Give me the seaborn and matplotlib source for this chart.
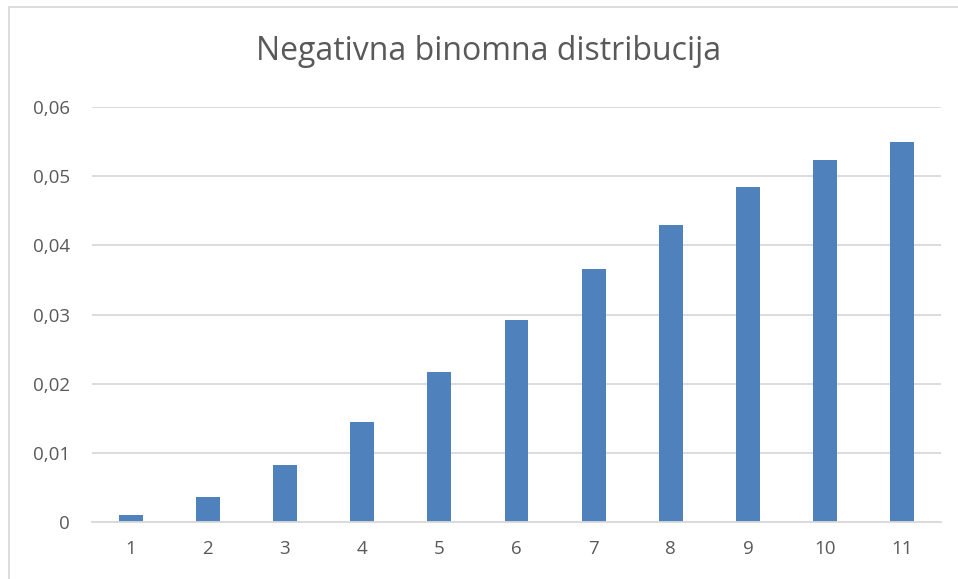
import matplotlib
matplotlib.use("Agg")
import matplotlib.pyplot as plt
import matplotlib.ticker as mticker
import seaborn as sns
import pandas as pd
from matplotlib.patches import Rectangle

categories = ["1", "2", "3", "4", "5", "6", "7", "8", "9", "10", "11"]
values = [0.00097, 0.0036, 0.0082, 0.0144, 0.0217, 0.0292, 0.0366, 0.0430, 0.0484, 0.0524, 0.0550]
yticks = [0, 0.01, 0.02, 0.03, 0.04, 0.05, 0.06]
title = "Negativna binomna distribucija"

df = pd.DataFrame({"k": categories, "p": values})

sns.set_theme(style="white")
plt.rcParams["font.family"] = ["Open Sans", "DejaVu Sans"]

W, H = 958, 579
fig = plt.figure(figsize=(W / 100, H / 100), dpi=100)
ax = fig.add_axes([92 / W, (H - 522) / H, (941 - 92) / W, (522 - 107) / H])

sns.barplot(data=df, x="k", y="p", color="#4f81bd", width=0.31, ax=ax,
            saturation=1, edgecolor="#4f81bd", linewidth=0)

ax.set_ylim(0, 0.06)
ax.set_xlim(-0.5, len(categories) - 0.5)
ax.set_yticks(yticks)
ax.yaxis.set_major_formatter(mticker.FuncFormatter(
    lambda v, p: "0" if v == 0 else f"{v:.2f}".replace(".", ",")))
ax.grid(axis="y", color="#d9d9d9", linewidth=1.3)
ax.set_axisbelow(True)
for s in ["top", "right", "left"]:
    ax.spines[s].set_visible(False)
ax.spines["bottom"].set_color("#d9d9d9")
ax.spines["bottom"].set_linewidth(1.3)
ax.tick_params(axis="both", length=0, labelsize=13.5, labelcolor="#595959")
ax.tick_params(axis="y", pad=16)
ax.tick_params(axis="x", pad=13)
ax.set_xlabel("")
ax.set_ylabel("")

fig.text(489 / W, 1 - 52 / H, title, ha="center", va="center",
         fontsize=23, color="#595959")

fig.patches.append(Rectangle((9 / W, -0.1), 1.2, 1 - 7 / H + 0.1,
                             transform=fig.transFigure, fill=False,
                             edgecolor="#d9d9d9", linewidth=1.3))

fig.savefig("out.png", dpi=100)
